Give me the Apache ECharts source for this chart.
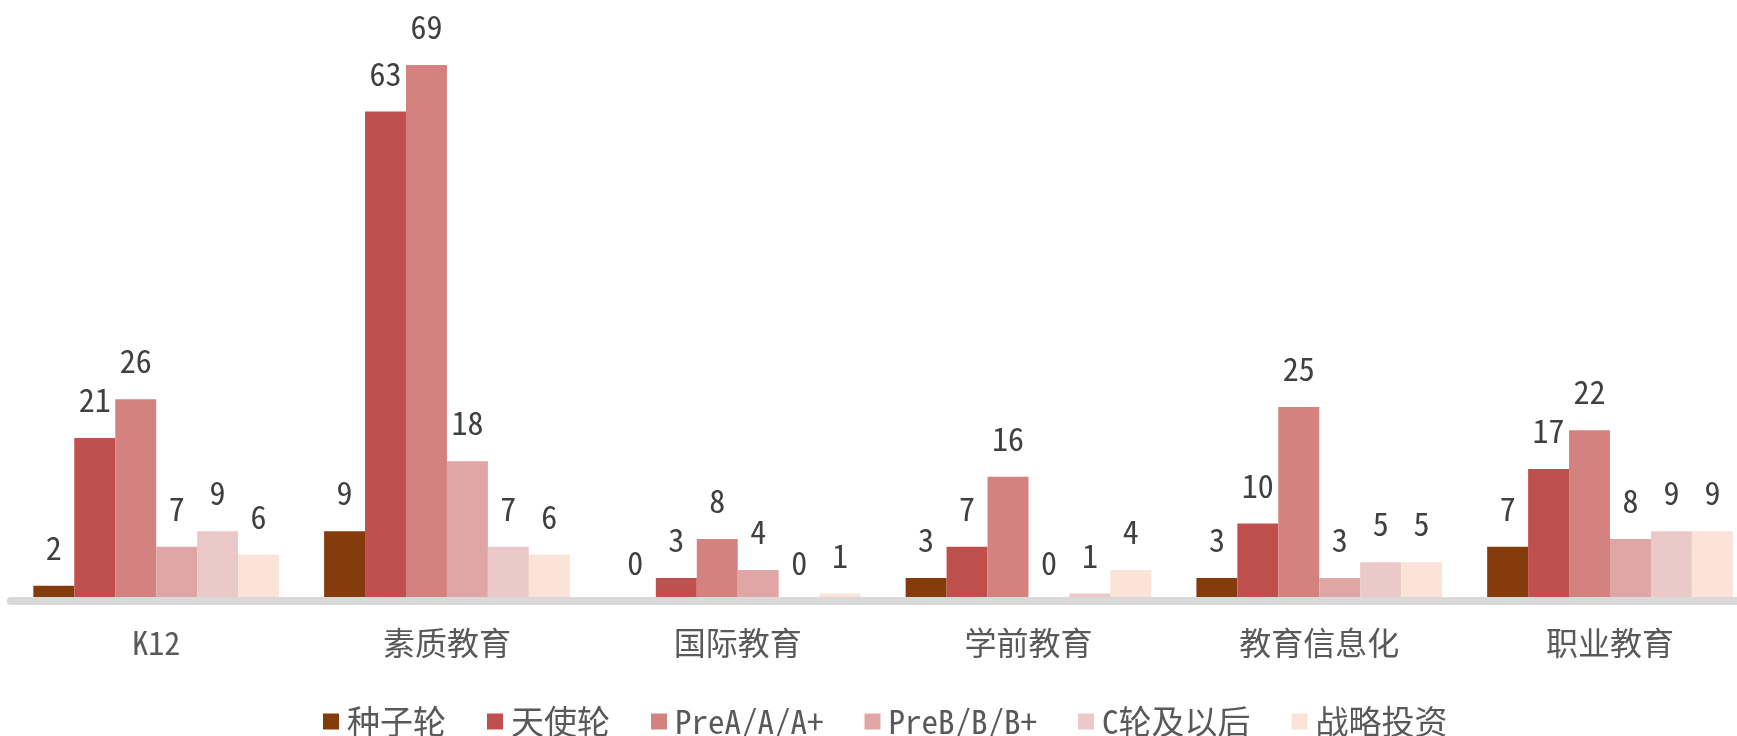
<!DOCTYPE html>
<html>
<head>
<meta charset="utf-8">
<script src="https://cdn.jsdelivr.net/npm/echarts@6/dist/echarts.min.js"></script>
<style>
  html, body { margin: 0; padding: 0; background: #ffffff; }
  #chart { width: 1737px; height: 736px; }
</style>
</head>
<body>
<div id="chart"></div>
<script>
// Sectors of education investment
const categories = ['K12', '素质教育', '国际教育', '学前教育', '教育信息化', '职业教育'];

// Deal counts per funding round, one value per sector
const seedRound   = [2, 9, 0, 3, 3, 7];
const angelRound  = [21, 63, 3, 7, 10, 17];
const preARound   = [26, 69, 8, 16, 25, 22];
const preBRound   = [7, 18, 4, 0, 3, 8];
const cRoundPlus  = [9, 7, 0, 1, 5, 9];
const strategic   = [6, 6, 1, 4, 5, 9];

const seriesNames = ['种子轮', '天使轮', 'PreA/A/A+', 'PreB/B/B+', 'C轮及以后', '战略投资'];
const seriesData  = [seedRound, angelRound, preARound, preBRound, cRoundPlus, strategic];
const colors = ['#843C0C', '#C0504D', '#D48280', '#DFA6A5', '#EBC9C9', '#FBE4D7'];

const FONT = '"Noto Sans Mono CJK SC", "Noto Sans CJK SC", sans-serif';

const chart = echarts.init(document.getElementById('chart'), null, { renderer: 'canvas' });

chart.setOption({
  animation: false,
  backgroundColor: '#ffffff',
  color: colors,
  grid: {
    left: 10.8,
    top: 57.2,
    width: 1744.6,
    height: 544,
    containLabel: false,
    outerBoundsMode: 'none'
  },
  legend: {
    data: seriesNames,
    left: 323,
    top: 705,
    padding: 0,
    icon: 'rect',
    itemWidth: 16,
    itemHeight: 16,
    itemGap: 41,
    textStyle: {
      fontFamily: FONT,
      fontSize: 33,
      color: '#595959',
      padding: [0, 0, 0, 3]
    }
  },
  xAxis: {
    type: 'category',
    data: categories,
    z: 5,
    axisLine: { show: true, lineStyle: { color: '#D9D9D9', width: 8 } },
    axisTick: { show: false },
    axisLabel: {
      margin: 26,
      fontFamily: FONT,
      fontSize: 32,
      color: '#595959'
    },
    splitLine: { show: false }
  },
  yAxis: {
    type: 'value',
    min: 0,
    max: 70,
    show: false,
    splitLine: { show: false }
  },
  series: seriesNames.map((name, i) => ({
    name: name,
    type: 'bar',
    data: seriesData[i],
    barGap: '0%',
    barCategoryGap: '15.5%',
    itemStyle: { color: colors[i] },
    label: {
      show: true,
      position: 'top',
      distance: 22,
      fontFamily: FONT,
      fontSize: 32,
      color: '#404040'
    }
  }))
});
</script>
</body>
</html>
